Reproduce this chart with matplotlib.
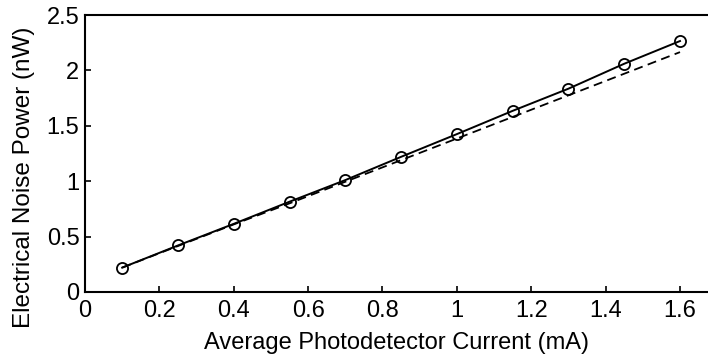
import matplotlib
matplotlib.use('Agg')
import matplotlib.pyplot as plt

plt.rcParams['font.family'] = ['Liberation Sans', 'DejaVu Sans']

# measured points (circles, solid line) and the linear fit (dashed)
current = [0.1, 0.25, 0.4, 0.55, 0.7, 0.85, 1.0, 1.15, 1.3, 1.45, 1.6]
measured = [0.22, 0.42, 0.615, 0.815, 1.01, 1.22, 1.425, 1.635, 1.835, 2.06, 2.265]
fit = [0.22, 0.415, 0.61, 0.80, 0.995, 1.19, 1.385, 1.58, 1.775, 1.97, 2.165]

xticks = [0, 0.2, 0.4, 0.6, 0.8, 1, 1.2, 1.4, 1.6]
xticklabels = ['0', '0.2', '0.4', '0.6', '0.8', '1', '1.2', '1.4', '1.6']
yticks = [0, 0.5, 1, 1.5, 2, 2.5]
yticklabels = ['0', '0.5', '1', '1.5', '2', '2.5']

fig = plt.figure(figsize=(7.08, 3.58), dpi=100)
ax = fig.add_axes([85/708, 66/358, 623/708, 277/358])

ax.plot(current, fit, 'k--', lw=1.3, dashes=(5, 3))
ax.plot(current, measured, 'k-', lw=1.4, marker='o', ms=8,
        mfc='none', mec='black', mew=1.3)

ax.set_xlim(0, 1.6 * 623 / 595)
ax.set_ylim(0, 2.5)
ax.set_xticks(xticks)
ax.set_xticklabels(xticklabels)
ax.set_yticks(yticks)
ax.set_yticklabels(yticklabels)
ax.tick_params(direction='in', length=4, width=1.2, labelsize=17)
ax.tick_params(axis='x', pad=6)
ax.tick_params(axis='y', pad=4)
ax.spines['right'].set_visible(False)
for s in ['left', 'bottom', 'top']:
    ax.spines[s].set_linewidth(1.5)

ax.set_xlabel('Average Photodetector Current (mA)', fontsize=17, labelpad=7)
ax.set_ylabel('Electrical Noise Power (nW)', fontsize=17.5)
ax.yaxis.set_label_coords(-0.08, 0.415)

fig.savefig('out.png', dpi=100)
